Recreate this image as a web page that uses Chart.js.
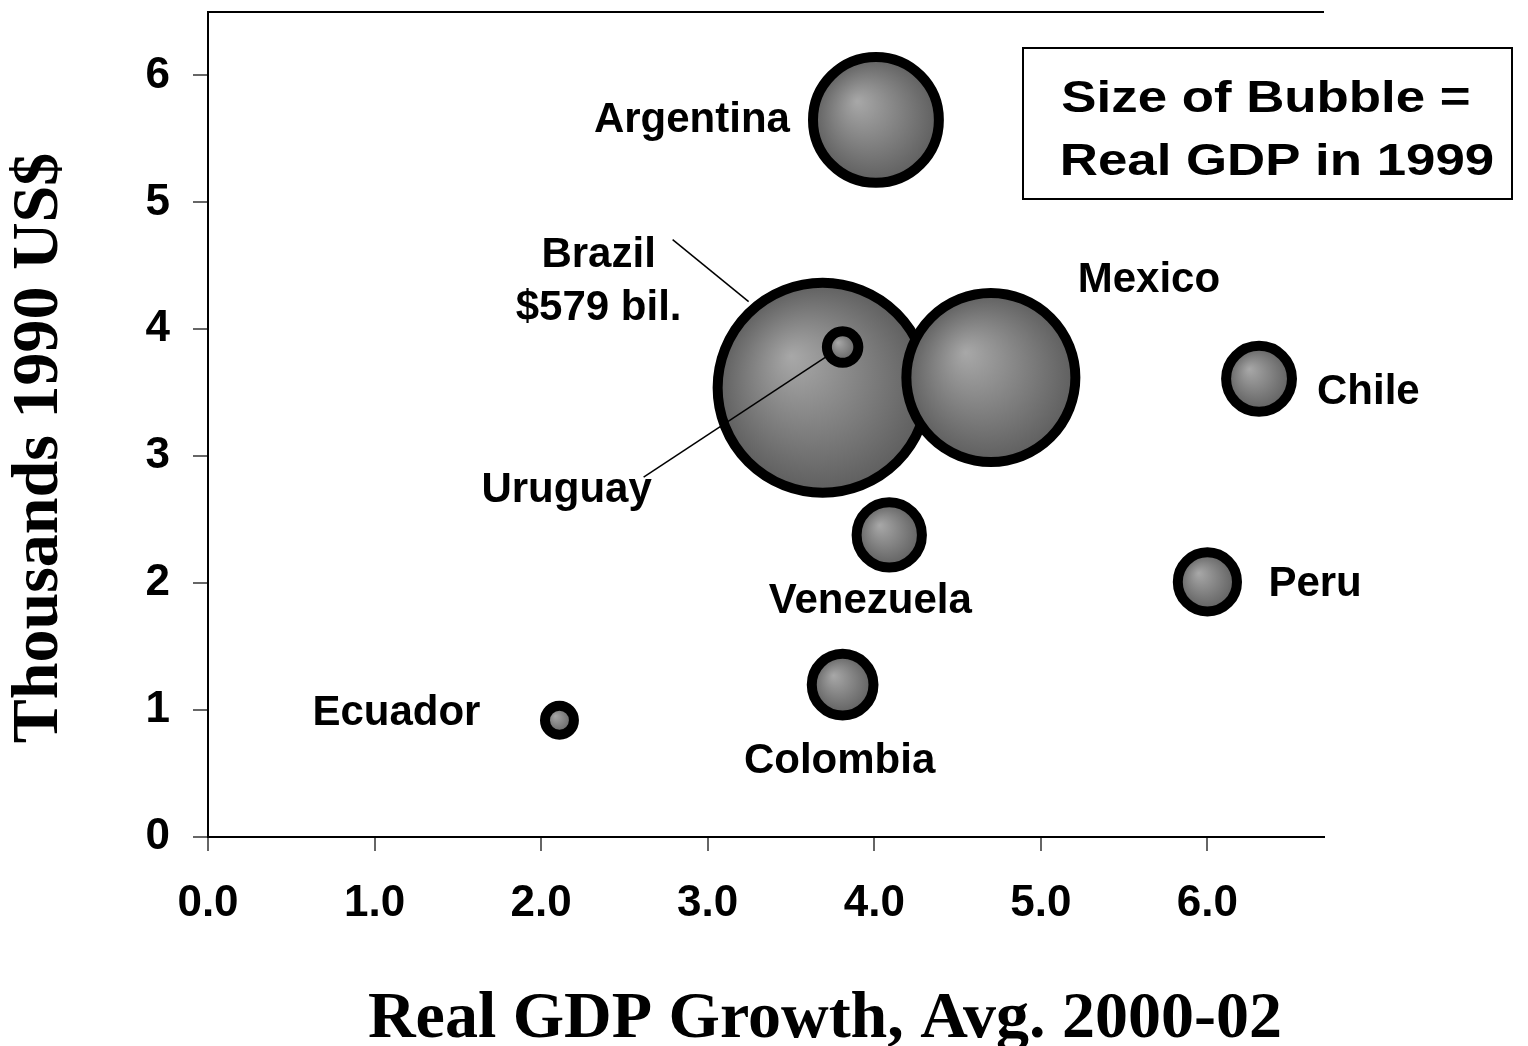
<!DOCTYPE html>
<html>
<head>
<meta charset="utf-8">
<title>Real GDP Growth vs. GDP per capita</title>
<script src="https://cdn.jsdelivr.net/npm/chart.js@4.4.1/dist/chart.umd.min.js"></script>
<style>
  html, body { margin: 0; padding: 0; background: #fff; }
  #wrap { position: relative; width: 1528px; height: 1046px; }
</style>
</head>
<body>
<div id="wrap"><canvas id="bubbles"></canvas></div>
<script>
// Latin America: avg. real GDP growth 2000-02 vs. GDP per capita, bubble area = real GDP 1999
const countries = ['Argentina', 'Brazil', 'Mexico', 'Chile', 'Venezuela', 'Peru', 'Colombia', 'Ecuador', 'Uruguay'];
const growth    = [4.01, 3.69, 4.70, 6.31, 4.09, 6.00, 3.81, 2.11, 3.81];   // %
const perCapita = [5.65, 3.54, 3.62, 3.61, 2.38, 2.01, 1.20, 0.92, 3.86];   // thousands 1990 US$
const gdp1999   = [208, 579, 375, 57, 56, 46, 50, 11, 13];                  // bil. 1990 US$
const xTickValues = [0, 1, 2, 3, 4, 5, 6];
const yTickValues = [0, 1, 2, 3, 4, 5, 6];

// radius in px of the largest bubble (Brazil); others scale by area
const MAX_RADIUS = 105;
const maxGdp = Math.max(...gdp1999);

const SANS = '"Liberation Sans", Arial, sans-serif';
const SERIF = '"Liberation Serif", "Times New Roman", serif';

// where each name sits relative to its bubble (px)
const labelPlacement = {
  Argentina: { dx: -86, dy: 1, align: 'right' },
  Brazil:    { dx: -224, dy: -132, align: 'center', leader: [-150, -148, -74, -86] },
  Mexico:    { dx: 158, dy: -97, align: 'center' },
  Chile:     { dx: 58, dy: 14, align: 'left' },
  Venezuela: { dx: -19, dy: 66, align: 'center' },
  Peru:      { dx: 61, dy: 3, align: 'left' },
  Colombia:  { dx: -3, dy: 77, align: 'center' },
  Ecuador:   { dx: -79, dy: -7, align: 'right' },
  Uruguay:   { dx: -276, dy: 143, align: 'center', leader: [-199, 130, -17, 10] }
};

const points = countries.map((name, i) => ({
  x: growth[i],
  y: perCapita[i],
  r: MAX_RADIUS * Math.sqrt(gdp1999[i] / maxGdp),
  name: name,
  gdp: gdp1999[i]
}));

// sphere-like shading, lit from the upper left
function bubbleFill(context) {
  const chart = context.chart;
  const p = context.raw;
  if (!p || !chart.scales.x || !chart.scales.y) return '#777';
  const cx = chart.scales.x.getPixelForValue(p.x);
  const cy = chart.scales.y.getPixelForValue(p.y);
  if (!isFinite(cx) || !isFinite(cy)) return '#777';
  const g = chart.ctx.createRadialGradient(cx - p.r * 0.3, cy - p.r * 0.3, 0, cx, cy, p.r);
  g.addColorStop(0, '#a8a8a8');
  g.addColorStop(1, '#5e5e5e');
  return g;
}

const bubbleLabels = {
  id: 'bubbleLabels',
  afterDatasetsDraw(chart) {
    const { ctx } = chart;
    const meta = chart.getDatasetMeta(0);
    ctx.save();
    ctx.fillStyle = '#000';
    ctx.strokeStyle = '#000';
    ctx.lineWidth = 1.5;
    ctx.font = 'bold 42px ' + SANS;
    ctx.textBaseline = 'middle';
    meta.data.forEach((el, i) => {
      const p = points[i];
      const pos = labelPlacement[p.name];
      if (pos.leader) {
        const [x1, y1, x2, y2] = pos.leader;
        ctx.beginPath();
        ctx.moveTo(el.x + x1, el.y + y1);
        ctx.lineTo(el.x + x2, el.y + y2);
        ctx.stroke();
      }
      ctx.textAlign = pos.align;
      const lines = p.name === 'Brazil' ? [p.name, '$' + p.gdp + ' bil.'] : [p.name];
      lines.forEach((t, k) => ctx.fillText(t, el.x + pos.dx, el.y + pos.dy + k * 53));
    });
    ctx.restore();
  }
};

const frameAndTitles = {
  id: 'frameAndTitles',
  afterDraw(chart) {
    const { ctx, chartArea } = chart;
    ctx.save();
    // top frame line
    ctx.strokeStyle = '#000';
    ctx.lineWidth = 2;
    ctx.beginPath();
    ctx.moveTo(chartArea.left, chartArea.top);
    ctx.lineTo(chartArea.right, chartArea.top);
    ctx.stroke();

    // axis titles
    ctx.fillStyle = '#000';
    ctx.font = 'bold 66px ' + SERIF;
    ctx.textAlign = 'center';
    ctx.textBaseline = 'alphabetic';
    ctx.fillText('Real GDP Growth, Avg. 2000-02', 825, 1037);
    ctx.save();
    ctx.translate(57, 448);
    ctx.rotate(-Math.PI / 2);
    ctx.fillText('Thousands 1990 US$', 0, 0);
    ctx.restore();

    // size key box
    ctx.lineWidth = 2;
    ctx.strokeRect(1023, 48, 489, 151);
    ctx.font = 'bold 44px ' + SANS;
    [['Size of Bubble =', 1266, 112], ['Real GDP in 1999', 1277, 175]].forEach(([t, x, y]) => {
      ctx.save();
      ctx.translate(x, y);
      ctx.scale(1.2, 1);
      ctx.fillText(t, 0, 0);
      ctx.restore();
    });
    ctx.restore();
  }
};

Chart.defaults.font.family = SANS;
Chart.defaults.color = '#000';

new Chart(document.getElementById('bubbles'), {
  type: 'bubble',
  data: {
    datasets: [{
      label: 'Real GDP 1999',
      data: points,
      backgroundColor: bubbleFill,
      borderColor: '#000',
      borderWidth: 10,
      clip: false
    }]
  },
  options: {
    responsive: true,
    maintainAspectRatio: false,
    animation: false,
    events: [],
    layout: { autoPadding: false, padding: { top: 12, right: 204, left: 0, bottom: 0 } },
    plugins: {
      legend: { display: false },
      tooltip: { enabled: false }
    },
    scales: {
      x: {
        type: 'linear',
        min: 0,
        max: 6.7,
        afterBuildTicks: s => { s.ticks = xTickValues.map(v => ({ value: v })); },
        afterFit: s => { s.height = 209; s.paddingLeft = 0; s.paddingRight = 0; },
        border: { color: '#000', width: 2 },
        grid: { drawOnChartArea: false, tickLength: 14, color: '#666', lineWidth: 2 },
        ticks: {
          padding: 26,
          maxRotation: 0,
          font: { size: 44, weight: 'bold' },
          callback: v => Number(v).toFixed(1)
        }
      },
      y: {
        type: 'linear',
        min: 0,
        max: 6.5,
        afterBuildTicks: s => { s.ticks = yTickValues.map(v => ({ value: v })); },
        afterFit: s => { s.width = 208; s.paddingTop = 0; s.paddingBottom = 0; },
        border: { color: '#000', width: 2 },
        grid: { drawOnChartArea: false, tickLength: 15, color: '#666', lineWidth: 2 },
        ticks: {
          padding: 23,
          font: { size: 44, weight: 'bold' },
          callback: v => String(v)
        }
      }
    }
  },
  plugins: [bubbleLabels, frameAndTitles]
});
</script>
</body>
</html>
